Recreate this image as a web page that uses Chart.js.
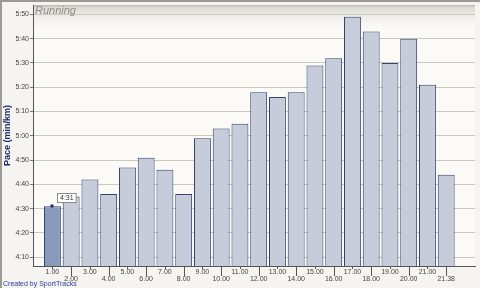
<!DOCTYPE html>
<html>
<head>
<meta charset="utf-8">
<script src="https://cdn.jsdelivr.net/npm/chart.js@4/dist/chart.umd.min.js"></script>
<style>
  html, body { margin: 0; padding: 0; background: #f5f4f0; }
  #chart { display: block; }
</style>
</head>
<body>
<canvas id="chart" width="480" height="288"></canvas>
<script>
// km splits and pace per km (seconds)
const kmLabels = ['1.00', '2.00', '3.00', '4.00', '5.00', '6.00', '7.00', '8.00', '9.00', '10.00', '11.00',
    '12.00', '13.00', '14.00', '15.00', '16.00', '17.00', '18.00', '19.00', '20.00', '21.00', '21.38'];
const paceSeconds = [271, 275, 282, 276, 287, 291, 286, 276, 299, 303, 305,
    318, 316, 318, 329, 332, 349, 343, 330, 340, 321, 284];
const paceTicks = [250, 260, 270, 280, 290, 300, 310, 320, 330, 340, 350];
const selectedIndex = 0;

const fontFamily = "'Liberation Sans', Arial, sans-serif";

function formatPace(sec) {
    const m = Math.floor(sec / 60);
    const s = Math.round(sec % 60);
    return m + ':' + String(s).padStart(2, '0');
}

const framePlugin = {
    id: 'frame',
    beforeDraw(chart) {
        const { ctx, chartArea: a, width, height } = chart;
        ctx.save();
        ctx.fillStyle = '#f5f4f0';
        ctx.fillRect(0, 0, width, height);
        ctx.fillStyle = '#fbfaf6';
        ctx.fillRect(a.left, a.top, a.right - a.left, a.bottom - a.top);
        const g = ctx.createLinearGradient(0, a.top, 0, a.top + 28);
        g.addColorStop(0, '#d6d4ce');
        g.addColorStop(1, 'rgba(251,250,246,0)');
        ctx.fillStyle = g;
        ctx.fillRect(a.left, a.top, a.right - a.left, 28);
        // outer frame
        ctx.fillStyle = '#9a9a96';
        ctx.fillRect(0, 0, width, 2);
        ctx.fillRect(0, 0, 2, height);
        // plot top border
        ctx.fillStyle = '#b8b6b0';
        ctx.fillRect(a.left, a.top, a.right - a.left, 1);
        ctx.restore();
    },
    afterDraw(chart) {
        const { ctx, chartArea: a } = chart;
        const xs = chart.scales.x;
        ctx.save();
        // x tick marks, alternating short / long
        ctx.strokeStyle = '#555';
        ctx.lineWidth = 1;
        kmLabels.forEach((lbl, i) => {
            const px = Math.round(xs.getPixelForValue(i + 1)) + 0.5;
            ctx.beginPath();
            ctx.moveTo(px, a.bottom);
            ctx.lineTo(px, a.bottom + (i % 2 === 0 ? 3 : 10));
            ctx.stroke();
        });

        // title inside plot
        ctx.font = 'italic 11px "Liberation Sans", Arial, sans-serif';
        ctx.fillStyle = '#8c8c8a';
        ctx.textBaseline = 'middle';
        ctx.fillText('Running', a.left + 2, a.top + 6);

        // selected bar marker + value box
        const bar = chart.getDatasetMeta(0).data[selectedIndex];
        ctx.fillStyle = '#1e2a6a';
        ctx.fillRect(Math.round(bar.x) - 1.5, Math.round(bar.y) - 1.5, 3, 3);
        const text = formatPace(paceSeconds[selectedIndex]);
        ctx.font = '7px ' + fontFamily;
        const tw = ctx.measureText(text).width;
        const bx = Math.round(bar.x) + 5.5, by = Math.round(bar.y) - 12.5;
        ctx.fillStyle = '#ffffff';
        ctx.fillRect(bx, by, tw + 5, 9);
        ctx.strokeStyle = '#8a8a8a';
        ctx.strokeRect(bx, by, tw + 5, 9);
        ctx.fillStyle = '#333';
        ctx.textBaseline = 'middle';
        ctx.fillText(text, bx + 2.5, by + 4.8);

        // credit
        ctx.font = '7px ' + fontFamily;
        ctx.fillStyle = '#2b3c9c';
        ctx.textBaseline = 'alphabetic';
        ctx.fillText('Created by SportTracks', 3, 286);
        ctx.restore();
    }
};

new Chart(document.getElementById('chart').getContext('2d'), {
    type: 'bar',
    data: {
        datasets: [{
            data: paceSeconds.map((v, i) => ({ x: i + 1, y: v })),
            backgroundColor: paceSeconds.map((v, i) => i === selectedIndex ? '#8a9abb' : '#c6ccda'),
            borderColor: '#34426e',
            borderWidth: 1,
            barPercentage: 0.9,
            categoryPercentage: 1,
        }]
    },
    options: {
        responsive: false,
        animation: false,
        layout: { padding: { top: 3, right: 5, left: 0, bottom: 0 } },
        plugins: {
            legend: { display: false },
            tooltip: { enabled: false },
        },
        scales: {
            x: {
                type: 'linear',
                min: 0.5,
                max: 23,
                afterBuildTicks(scale) {
                    scale.ticks = kmLabels.map((l, i) => ({ value: i + 1 }));
                },
                afterFit(scale) { scale.height = 22; },
                grid: { drawOnChartArea: false, drawTicks: false },
                border: { display: true, color: '#555' },
                ticks: {
                    autoSkip: false,
                    maxRotation: 0,
                    padding: 2,
                    color: '#444',
                    font: { family: fontFamily, size: 7, lineHeight: 1.1 },
                    callback(value) {
                        const lbl = kmLabels[value - 1];
                        if (lbl === undefined) return '';
                        return (value - 1) % 2 === 0 ? lbl : ['', lbl];
                    }
                }
            },
            y: {
                min: 246.4,
                max: 353.8,
                afterBuildTicks(scale) {
                    scale.ticks = paceTicks.map(v => ({ value: v }));
                },
                afterFit(scale) { scale.width = 33; },
                grid: { color: '#cbc8be', tickColor: '#777', tickLength: 3 },
                border: { display: true, color: '#555' },
                ticks: {
                    padding: 1,
                    color: '#444',
                    font: { family: fontFamily, size: 7 },
                    callback: v => formatPace(v)
                },
                title: {
                    display: true,
                    text: 'Pace (min/km)',
                    color: '#1e2a6a',
                    padding: { top: 2, bottom: 0 },
                    font: { family: fontFamily, size: 9, weight: 'bold' }
                }
            }
        }
    },
    plugins: [framePlugin]
});
</script>
</body>
</html>
